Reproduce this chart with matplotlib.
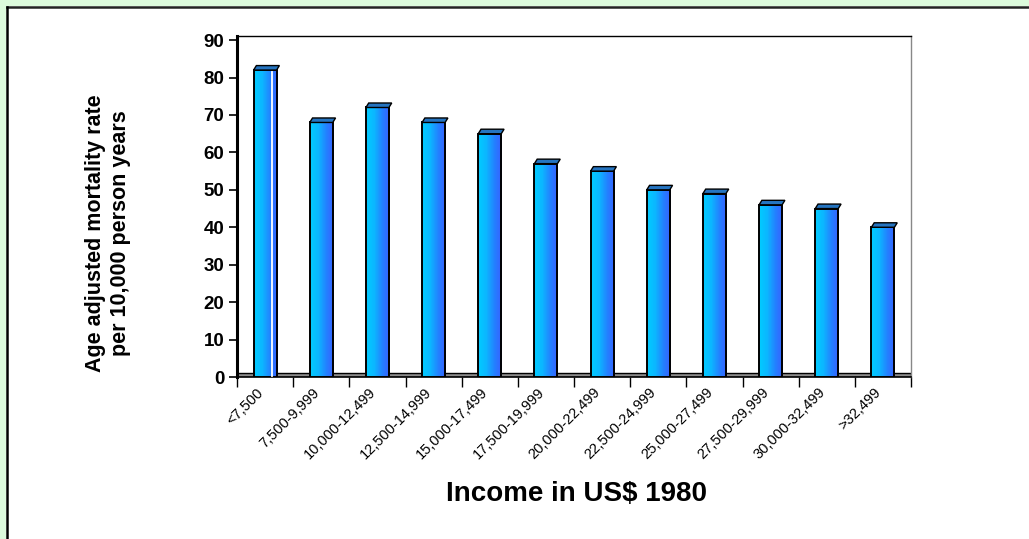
import numpy as np
import matplotlib.pyplot as plt
from matplotlib.patches import Rectangle, Polygon
from matplotlib.lines import Line2D
from matplotlib.colors import LinearSegmentedColormap
from matplotlib.transforms import ScaledTranslation

plt.rcParams['font.family'] = ['Liberation Sans', 'DejaVu Sans']

income = ['<7,500', '7,500-9,999', '10,000-12,499', '12,500-14,999',
          '15,000-17,499', '17,500-19,999', '20,000-22,499', '22,500-24,999',
          '25,000-27,499', '27,500-29,999', '30,000-32,499', '>32,499']
mortality = [82, 68, 72, 68, 65, 57, 55, 50, 49, 46, 45, 40]

W, H = 1029, 539
fig = plt.figure(figsize=(W / 100, H / 100), dpi=100)
fig.patch.set_facecolor('white')

# green margin along top and left, black frame line inside it
green = '#dcfadc'
fig.add_artist(Rectangle((0, 1 - 6 / H), 1, 6 / H, transform=fig.transFigure,
                         facecolor=green, edgecolor='none'))
fig.add_artist(Rectangle((0, 0), 6 / W, 1, transform=fig.transFigure,
                         facecolor=green, edgecolor='none'))
fig.add_artist(Line2D([7 / W, 1], [1 - 7 / H, 1 - 7 / H], transform=fig.transFigure,
                      color='#222222', lw=1.8))
fig.add_artist(Line2D([7 / W, 7 / W], [0, 1 - 7 / H], transform=fig.transFigure,
                      color='black', lw=1.8))

ax = fig.add_axes([237 / W, 1 - 377 / H, (911 - 237) / W, (377 - 36) / H])
n = len(mortality)
x = np.arange(n)

# floor of the 3d box
ax.add_patch(Rectangle((-0.5, 0), n, 1.1, facecolor='#8c8c8c', edgecolor='black',
                       lw=1.0, zorder=1))

bw = 0.41
dx, dy = 0.05, 1.2
cmap = LinearSegmentedColormap.from_list(
    'bar', [(0, '#00ccff'), (0.35, '#0cb6ff'), (0.7, '#2480ff'), (1, '#3860ff')])
grad = np.linspace(0, 1, 64)[None, :]
for xi, v in zip(x, mortality):
    x0 = xi - bw / 2
    # horizontal colour gradient across the bar face
    ax.imshow(grad, cmap=cmap, vmin=0, vmax=1, aspect='auto', origin='lower',
              extent=(x0, x0 + bw, 0, v), interpolation='nearest', zorder=3)
    ax.add_patch(Rectangle((x0, 0), bw, v, facecolor='none', edgecolor='black',
                           lw=1.4, zorder=4))
    # top face of the bar
    ax.add_patch(Polygon([(x0, v), (x0 + bw, v), (x0 + bw + dx, v + dy), (x0 + dx, v + dy)],
                         closed=True, facecolor='#2574c0', edgecolor='black',
                         lw=1.0, zorder=5))

# highlight stripe on the first bar
ax.plot([x[0] - bw / 2 + bw * 0.8] * 2, [0.4, mortality[0] - 0.4],
        color='white', lw=1.3, zorder=5)

ax.set_xlim(-0.5, n - 0.5)
ax.set_ylim(0, 91.1)

ax.set_yticks(np.arange(0, 91, 10))
ax.tick_params(axis='y', direction='out', length=6, width=1.2, labelsize=13.5, pad=3)
for t in ax.get_yticklabels():
    t.set_fontweight('bold')

ax.set_xticks(np.arange(-0.5, n, 1))
ax.set_xticklabels([])
ax.set_xticks(x, minor=True)
ax.set_xticklabels(income, minor=True, rotation=45, ha='right', va='top',
                   rotation_mode='anchor', fontsize=10.5)
ax.tick_params(axis='x', which='major', direction='out', length=7, width=1.0)
ax.tick_params(axis='x', which='minor', length=0, pad=6)
shift = ScaledTranslation(-9 / 100, 0, fig.dpi_scale_trans)
for t in ax.get_xticklabels(minor=True):
    t.set_transform(t.get_transform() + shift)

ax.spines['left'].set_linewidth(2.2)
ax.spines['bottom'].set_linewidth(1.2)
ax.spines['top'].set_linewidth(1.0)
ax.spines['right'].set_color('#888888')
ax.spines['right'].set_linewidth(1.0)

fig.text(108 / W, 1 - 233 / H, 'Age adjusted mortality rate\nper 10,000 person years',
         rotation=90, ha='center', va='center', fontsize=15.5, fontweight='bold',
         linespacing=1.25)
fig.text(576 / W, 1 - 494 / H, 'Income in US$ 1980', ha='center', va='center',
         fontsize=20, fontweight='bold')

fig.savefig('out.png', dpi=100)
